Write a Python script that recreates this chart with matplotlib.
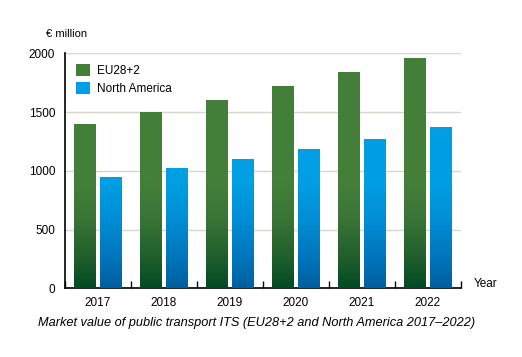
import numpy as np
import matplotlib.pyplot as plt
from matplotlib.colors import LinearSegmentedColormap
from matplotlib.patches import Patch

years = ["2017", "2018", "2019", "2020", "2021", "2022"]
eu = [1400, 1500, 1600, 1720, 1840, 1960]
na = [950, 1025, 1100, 1185, 1270, 1375]

plt.rcParams["font.family"] = ["Liberation Sans", "DejaVu Sans"]

fig = plt.figure(figsize=(5.22, 3.57), dpi=100)
ax = fig.add_axes([65 / 522, 1 - 288.3 / 357, 396 / 522, 235 / 357])

# shading only in the lower part of the bars, flat colour higher up
green_cmap = LinearSegmentedColormap.from_list(
    "g", [(0, "#004a24"), (0.12, "#1f5e2c"), (0.3, "#3a7536"), (0.45, "#447f3a"), (1, "#447f3a")])
blue_cmap = LinearSegmentedColormap.from_list(
    "b", [(0, "#005f9f"), (0.12, "#0074bb"), (0.3, "#008fd6"), (0.45, "#009fe3"), (1, "#009fe3")])

x = np.arange(len(years))
w = 0.333
b1 = ax.bar(x - 0.197, eu, w, color="none", zorder=3)
b2 = ax.bar(x + 0.197, na, w, color="none", zorder=3)

grad = np.linspace(0, 1, 256).reshape(-1, 1)
for bars, cmap in [(b1, green_cmap), (b2, blue_cmap)]:
    for p in bars:
        x0 = p.get_x()
        x1 = x0 + p.get_width()
        im = ax.imshow(grad, cmap=cmap, extent=[x0, x1, 0, 2000], origin="lower",
                       aspect="auto", zorder=3)
        im.set_clip_path(p)

ax.set_xlim(-0.5, len(years) - 0.5)
ax.set_ylim(0, 2000)
ax.set_yticks([0, 500, 1000, 1500, 2000])
ax.yaxis.grid(True, color="#d9d6d0", linewidth=1.0, zorder=0)
ax.set_axisbelow(True)
ax.tick_params(axis="y", length=0, labelsize=8.5, pad=7)

ax.set_xticks(x)
ax.set_xticklabels(years, fontsize=8.5)
ax.tick_params(axis="x", length=0, pad=6)
ax.set_xticks(np.arange(-0.5, len(years)), minor=True)
ax.tick_params(axis="x", which="minor", direction="in", length=5, width=1, color="black")

for s in ["top", "right"]:
    ax.spines[s].set_visible(False)
for s in ["left", "bottom"]:
    ax.spines[s].set_linewidth(1.2)

ax.legend(handles=[Patch(facecolor="#447f3a", label="EU28+2"),
                   Patch(facecolor="#009fe3", label="North America")],
          loc="upper left", frameon=False, fontsize=8.5, handlelength=1.2,
          handleheight=1.2, borderaxespad=0.5, labelspacing=0.4, handletextpad=0.6)

fig.text(46 / 522, 1 - 34 / 357, "€ million", fontsize=8, va="center")
fig.text(474 / 522, 1 - 284 / 357, "Year", fontsize=8.5, va="center")
fig.text(257 / 522, 1 - 323 / 357,
         "Market value of public transport ITS (EU28+2 and North America 2017\u20132022)",
         fontsize=9.2, style="italic", ha="center", va="center")

fig.savefig("out.png", dpi=100)
